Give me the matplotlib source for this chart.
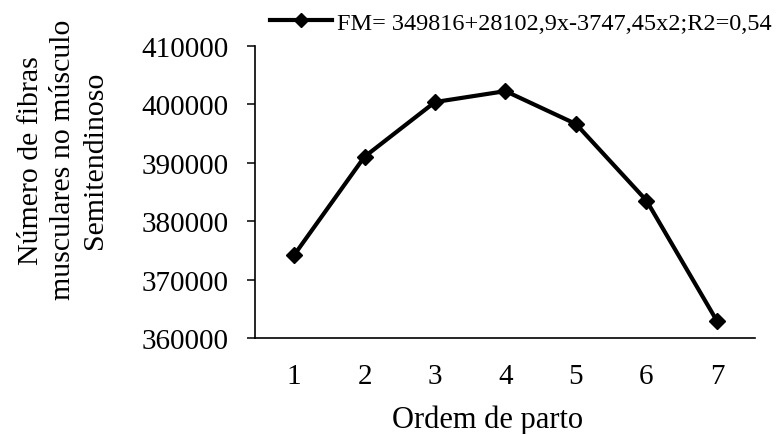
import matplotlib
matplotlib.use("Agg")
import matplotlib.pyplot as plt

ordem = [1, 2, 3, 4, 5, 6, 7]
fibras = [374170, 391030, 400400, 402270, 396640, 383530, 362910]
yticks = [360000, 370000, 380000, 390000, 400000, 410000]
legend_label = "FM= 349816+28102,9x-3747,45x2;R2=0,54"

plt.rcParams['font.family'] = ['Liberation Serif', 'DejaVu Serif']

fig = plt.figure(figsize=(7.83, 4.35), dpi=100)
ax = fig.add_axes([0.3257, 0.2207, 0.6386, 0.6713])
line, = ax.plot(ordem, fibras, color='black', lw=3, marker='D', ms=8.5, mec='black', mfc='black')
ax.set_xlim(0.447, 7.54)
ax.set_ylim(360000, 410000)
ax.set_yticks(yticks)
ax.set_yticklabels([str(v) for v in yticks])
ax.set_xticks(ordem)
ax.tick_params(axis='y', direction='out', length=6, width=1.1, labelsize=21, pad=13)
ax.tick_params(axis='x', length=0, labelsize=21, pad=18)
for s in ['top', 'right']:
    ax.spines[s].set_visible(False)
for s in ['left', 'bottom']:
    ax.spines[s].set_linewidth(1.2)
fig.text(0.623, 0.0345, 'Ordem de parto', ha='center', va='center', fontsize=22)
fig.text(0.080, 0.632, 'Número de fibras\nmusculares no músculo\nSemitendinoso',
         rotation=90, ha='center', va='center', fontsize=21.5, linespacing=1.3)
leg = fig.legend([line], [legend_label], loc='center left', bbox_to_anchor=(0.345, 0.945),
                 frameon=False, fontsize=17.5, handlelength=2.55, handletextpad=0.2,
                 borderaxespad=0, borderpad=0, markerscale=0.8)
fig.savefig('out.png', dpi=100)
